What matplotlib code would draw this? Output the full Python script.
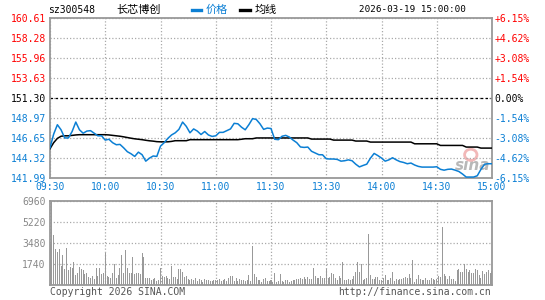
import numpy as np
import matplotlib
matplotlib.use('Agg')
import matplotlib.pyplot as plt
from matplotlib.lines import Line2D
from matplotlib.patches import Ellipse

# ---------------- data ----------------
code = "sz300548"
name = "长芯博创"
stamp = "2026-03-19 15:00:00"
prev_close = 151.30

time_labels = ['09:30', '10:00', '10:30', '11:00', '11:30', '13:30', '14:00', '14:30', '15:00']
time_ticks = [0, 30, 60, 90, 120, 150, 180, 210, 240]

price_ticks = [141.99, 144.32, 146.65, 148.97, 151.30, 153.63, 155.96, 158.28, 160.61]
price_labels = ['141.99', '144.32', '146.65', '148.97', '151.30', '153.63', '155.96', '158.28', '160.61']
pct_labels = ['-6.15%', '-4.62%', '-3.08%', '-1.54%', '0.00%', '+1.54%', '+3.08%', '+4.62%', '+6.15%']

vol_ticks = [1740, 3480, 5220, 6960]
vol_labels = ['1740', '3480', '5220', '6960']

# price sampled every 2 minutes (minute index 0..240)
price_minutes = list(range(0, 241, 2))
price = [145.50, 147.10, 148.19, 147.60, 146.65, 146.65, 147.40, 148.50, 147.60, 147.20,
         147.45, 147.50, 147.20, 146.90, 146.90, 146.40, 146.50, 146.10, 145.86, 145.90,
         145.50, 145.05, 144.81, 144.50, 145.00, 144.70, 143.95, 144.30, 144.55, 144.50,
         145.70, 146.10, 146.60, 147.00, 147.25, 147.65, 148.50, 148.00, 147.25, 147.70,
         147.45, 147.05, 147.40, 147.00, 146.83, 146.90, 147.30, 147.30, 147.50, 147.70,
         148.35, 148.30, 147.90, 147.60, 148.20, 148.90, 148.80, 148.30, 147.65, 147.80,
         147.75, 146.50, 146.45, 146.85, 146.95, 146.75, 146.40, 146.10, 145.60, 145.55,
         145.59, 145.10, 144.90, 144.70, 144.69, 144.23, 144.20, 144.20, 144.15, 143.95,
         144.00, 144.10, 144.00, 143.60, 143.28, 143.45, 143.60, 144.30, 144.85, 144.60,
         144.31, 143.95, 144.10, 144.35, 144.10, 143.90, 143.80, 143.65, 143.73, 143.50,
         143.34, 143.26, 143.26, 143.26, 143.26, 143.30, 143.00, 142.90, 143.00, 143.03,
         142.90, 142.75, 142.45, 142.10, 142.10, 142.10, 142.25, 143.00, 143.60, 143.65,
         143.65]

avg = [145.40, 146.10, 146.60, 146.85, 146.90, 146.90, 146.95, 147.00,
       147.03, 147.03, 147.03, 147.03, 147.03, 147.03, 147.03, 147.03,
       147.00, 146.95, 146.90, 146.85, 146.78, 146.70, 146.62, 146.55, 146.50, 146.45, 146.38,
       146.32, 146.28, 146.22, 146.20, 146.20, 146.20, 146.25, 146.33, 146.33, 146.33, 146.33,
       146.45, 146.45, 146.45, 146.45, 146.45, 146.45, 146.45, 146.45, 146.45, 146.45, 146.45,
       146.45, 146.45, 146.45,
       146.50, 146.56, 146.56, 146.56,
       146.65, 146.65, 146.65, 146.65, 146.65, 146.65, 146.65, 146.65, 146.65, 146.65, 146.65,
       146.65, 146.65, 146.65, 146.65,
       146.52, 146.52, 146.52, 146.52, 146.52, 146.52,
       146.40, 146.40, 146.40, 146.40, 146.40, 146.40,
       146.29, 146.29, 146.29, 146.29,
       146.17, 146.17, 146.17, 146.17, 146.17, 146.17, 146.17, 146.17, 146.17, 146.17, 146.17, 146.17,
       145.97, 145.97, 145.97, 145.97, 145.97, 145.97, 145.97,
       145.78, 145.78, 145.78, 145.78, 145.78, 145.78, 145.78,
       145.59, 145.59, 145.59, 145.59,
       145.47, 145.47, 145.47, 145.47]

vol_am = [3420, 6960, 4140, 2950, 2760, 3010, 1570, 2480, 1300, 3090,
          1210, 1490, 1440, 1930, 800, 1020, 1490, 1300, 1210, 880,
          1020, 660, 540, 720, 470, 1440, 750, 1440, 880, 1020,
          2680, 750, 660, 610, 1020, 1710, 610, 800, 1380, 2480,
          1020, 2870, 1380, 1020, 1020, 2320, 940, 1020, 1020, 940,
          2680, 2320, 610, 550, 610, 440, 520, 610, 330, 420,
          1380, 750, 660, 750, 550, 480, 1600, 690, 690, 470,
          1350, 1350, 1100, 690, 750, 520, 440, 500, 440, 610,
          330, 470, 390, 280, 470, 440, 390, 330, 360, 440,
          440, 390, 470, 330, 440, 500, 330, 610, 720, 720,
          330, 610, 330, 470, 390, 390, 300, 420, 830, 360,
          3230, 940, 690, 390, 390, 280, 500, 550, 330, 330,
          420]
vol_pm = [280, 1020, 280, 330, 940, 330, 280, 390, 390, 280,
          330, 390, 390, 520, 470, 610, 470, 690, 470, 690,
          470, 470, 1440, 750, 550, 550, 770, 610, 610, 1300,
          550, 660, 1020, 940, 550, 390, 770, 610, 1930, 410,
          390, 470, 390, 470, 770, 1100, 1930, 1100, 1770, 390,
          470, 610, 4200, 830, 470, 470, 690, 690, 390, 390,
          550, 830, 390, 390, 610, 1100, 330, 520, 390, 470,
          520, 610, 690, 610, 940, 610, 2100, 280, 520, 830,
          520, 390, 390, 550, 390, 390, 610, 470, 440, 470,
          770, 660, 4830, 940, 750, 520, 750, 520, 520, 330,
          1270, 1350, 1100, 1100, 1710, 1350, 1100, 1270, 990, 990,
          1350, 1210, 830, 610, 1160, 940, 1100, 1210, 990, 1160]

# ---------------- style ----------------
BLUE = '#0b7fd4'
RED = '#ff0000'
GRAY = '#999999'
GRID = '#aaaaaa'
MONO = 'DejaVu Sans Mono'
CJK = ['Noto Sans CJK SC', 'DejaVu Sans']
FS = 7

W, H = 545, 300
fig = plt.figure(figsize=(W / 100, H / 100), dpi=100)
fig.patch.set_facecolor('white')


def fx(px):
    return px / W


def fy(py):
    return 1 - py / H


ax = fig.add_axes([fx(50), fy(178), (492 - 50) / W, (178 - 18) / H])
axv = fig.add_axes([fx(50), fy(285), (492 - 50) / W, (285 - 201) / H])

dot = (0, (1, 1.6))

# ---- price panel ----
ax.set_xlim(0, 240)
ax.set_ylim(price_ticks[0], price_ticks[-1])
ax.set_xticks(time_ticks)
ax.set_xticklabels(time_labels, fontfamily=MONO, fontsize=FS, color=BLUE)
ax.set_yticks(price_ticks)
ax.set_yticklabels(price_labels, fontfamily=MONO, fontsize=FS)
for lab, v in zip(ax.get_yticklabels(), price_ticks):
    if v > prev_close + 1e-6:
        lab.set_color(RED)
    elif v < prev_close - 1e-6:
        lab.set_color(BLUE)
    else:
        lab.set_color('black')
ax.tick_params(axis='both', length=0)
ax.tick_params(axis='y', pad=3)
ax.tick_params(axis='x', pad=3)
ax.grid(True, color=GRID, linestyle=dot, linewidth=0.9)
ax.axhline(prev_close, color='black', linestyle=(0, (2, 2)), linewidth=0.9, zorder=2)
for s in ax.spines.values():
    s.set_color(GRAY)
    s.set_linewidth(1.3)

# sina watermark (behind the lines)
ax.text(0.957, 0.075, 'sina', transform=ax.transAxes, fontsize=11, fontweight='bold',
        fontstyle='italic', color='#b8b8b8', ha='center', va='center', zorder=1)
ax.add_patch(Ellipse((0.952, 0.145), 0.028, 0.07, transform=ax.transAxes, facecolor='none',
                     edgecolor='#f2b8b8', linewidth=2.0, zorder=1))

ax.plot(price_minutes, avg, color='black', linewidth=1.1, zorder=3)
ax.plot(price_minutes, price, color=BLUE, linewidth=1.1, zorder=4)

axr = ax.twinx()
axr.set_ylim(price_ticks[0], price_ticks[-1])
axr.set_yticks(price_ticks)
axr.set_yticklabels(pct_labels, fontfamily=MONO, fontsize=FS)
for lab, v in zip(axr.get_yticklabels(), price_ticks):
    if v > prev_close + 1e-6:
        lab.set_color(RED)
    elif v < prev_close - 1e-6:
        lab.set_color(BLUE)
    else:
        lab.set_color('black')
axr.tick_params(axis='y', length=0, pad=2)
for s in axr.spines.values():
    s.set_visible(False)

# ---- volume panel ----
minutes_all = list(range(0, 241))
vol = vol_am + vol_pm
axv.bar(minutes_all, vol, width=0.55, color=GRAY, linewidth=0, align='center',
        antialiased=False)
axv.set_xlim(0, 240)
axv.set_ylim(0, vol_ticks[-1])
axv.set_xticks(time_ticks)
axv.set_xticklabels([])
axv.set_yticks(vol_ticks)
axv.set_yticklabels(vol_labels, fontfamily=MONO, fontsize=FS, color='#888888')
axv.tick_params(axis='both', length=0)
axv.tick_params(axis='y', pad=3)
axv.grid(True, color=GRID, linestyle=dot, linewidth=0.9)
axv.set_axisbelow(True)
for s in axv.spines.values():
    s.set_color(GRAY)
    s.set_linewidth(1.3)

# ---- header ----
fig.text(fx(48), fy(10), code, fontfamily=MONO, fontsize=FS, color='black', va='center', ha='left')
fig.text(fx(116), fy(10), name, fontfamily=CJK, fontsize=8, color='black', va='center', ha='left')
fig.add_artist(Line2D([fx(192), fx(201)], [fy(10), fy(10)], color=BLUE, linewidth=2.4,
                      transform=fig.transFigure))
fig.text(fx(206), fy(10), '价格', fontfamily=CJK, fontsize=8, color=BLUE, va='center', ha='left')
fig.add_artist(Line2D([fx(240), fx(250)], [fy(10), fy(10)], color='black', linewidth=2.4,
                      transform=fig.transFigure))
fig.text(fx(255), fy(10), '均线', fontfamily=CJK, fontsize=8, color='black', va='center', ha='left')
fig.text(fx(466), fy(10), stamp, fontfamily=MONO, fontsize=6.7, color='black', va='center', ha='right')

# ---- footer ----
fig.text(fx(50), fy(292), 'Copyright 2026 SINA.COM', fontfamily=MONO, fontsize=FS,
         color='#555555', va='center', ha='left')
fig.text(fx(491), fy(292), 'http://finance.sina.com.cn', fontfamily=MONO, fontsize=FS,
         color='#555555', va='center', ha='right')

fig.savefig('out.png', dpi=100, facecolor='white')
